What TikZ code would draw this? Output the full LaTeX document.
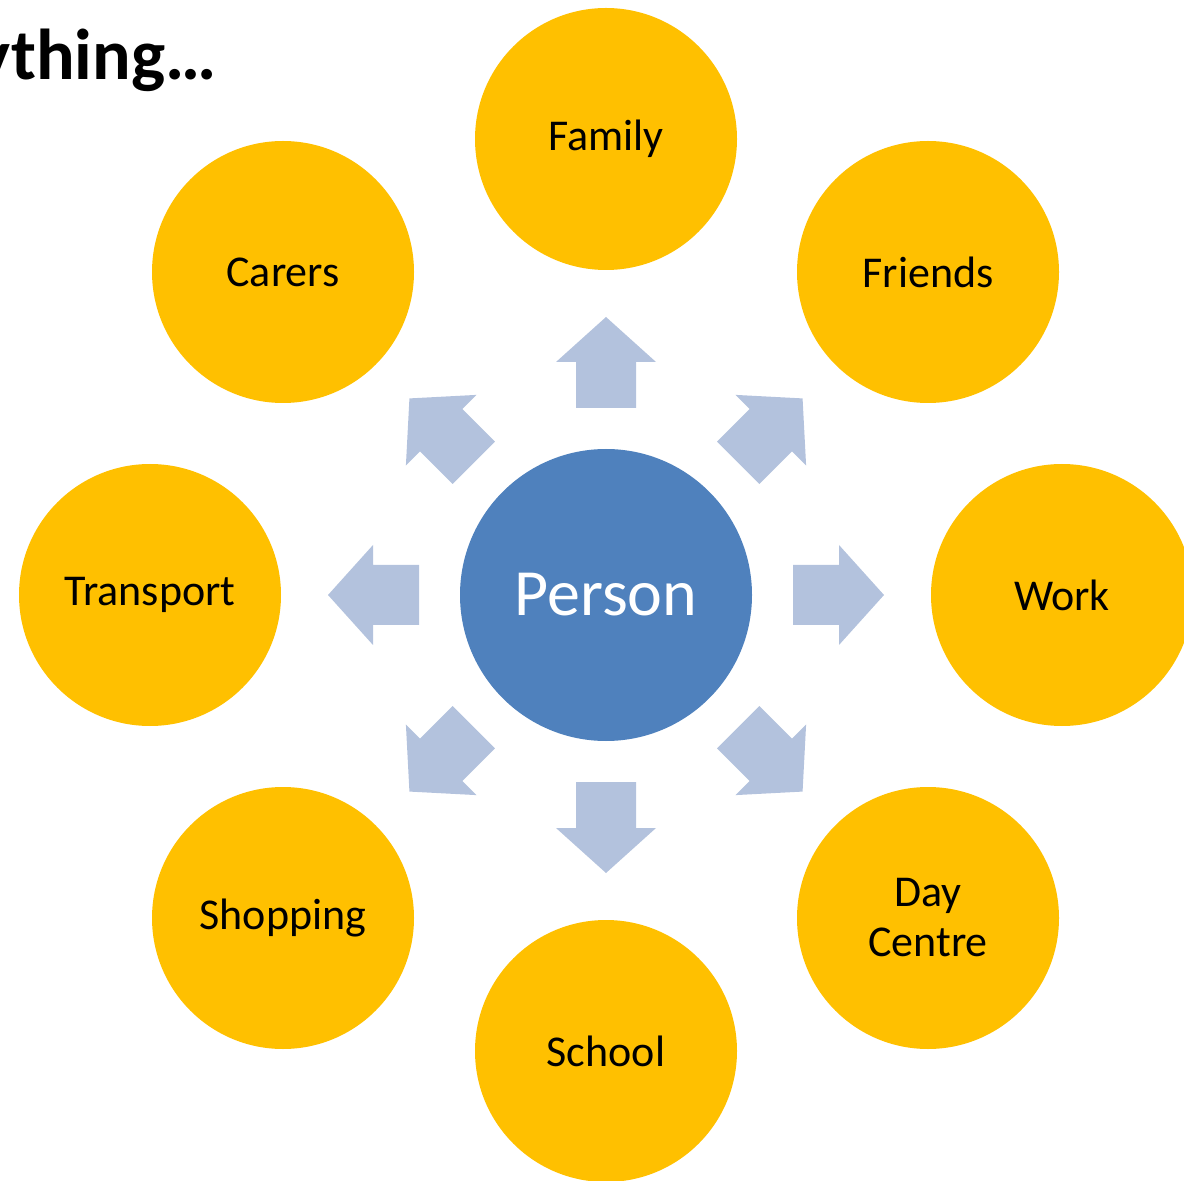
\documentclass[tikz,border=0pt]{standalone}
\usepackage{fontspec}
\setmainfont{Carlito}
\definecolor{ringgold}{HTML}{FFC000}
\definecolor{hubblue}{HTML}{4F81BD}
\definecolor{arrowblue}{HTML}{B3C2DD}
\begin{document}
\begin{tikzpicture}[x=0.5pt, y=0.5pt,
  place/.style={circle, fill=ringgold, minimum size=131pt, inner sep=0pt, align=center, font=\fontsize{22}{25}\selectfont},
  hub/.style={circle, fill=hubblue, minimum size=146pt, inner sep=0pt, text=white, font=\fontsize{33}{38}\selectfont},
  blockarrow/.style={fill=arrowblue}]
\useasboundingbox (0,0) rectangle (1184,1180);
\clip (0,0) rectangle (1184,1180);
\node[anchor=base east, inner sep=0pt, font=\bfseries\fontsize{36}{40}\selectfont] (title) at (217,1100) {ything…};
\node[hub] (person) at (606,585) {Person};
\node[place] (family) at (606,1041) {Family};
\node[place] (friends) at (928,908) {Friends};
\node[place] (work) at (1062,585) {Work};
\node[place] (daycentre) at (928,262) {Day\\Centre};
\node[place] (school) at (606,129) {School};
\node[place] (shopping) at (283,262) {Shopping};
\node[place] (transport) at (150,585) {Transport};
\node[place] (carers) at (283,908) {Carers};
\fill[blockarrow, shift={(person.center)}, rotate=0] (187,-30) -- (233,-30) -- (233,-50) -- (278,0) -- (233,50) -- (233,30) -- (187,30) -- cycle;
\fill[blockarrow, shift={(person.center)}, rotate=45] (187,-30) -- (233,-30) -- (233,-50) -- (278,0) -- (233,50) -- (233,30) -- (187,30) -- cycle;
\fill[blockarrow, shift={(person.center)}, rotate=90] (187,-30) -- (233,-30) -- (233,-50) -- (278,0) -- (233,50) -- (233,30) -- (187,30) -- cycle;
\fill[blockarrow, shift={(person.center)}, rotate=135] (187,-30) -- (233,-30) -- (233,-50) -- (278,0) -- (233,50) -- (233,30) -- (187,30) -- cycle;
\fill[blockarrow, shift={(person.center)}, rotate=180] (187,-30) -- (233,-30) -- (233,-50) -- (278,0) -- (233,50) -- (233,30) -- (187,30) -- cycle;
\fill[blockarrow, shift={(person.center)}, rotate=225] (187,-30) -- (233,-30) -- (233,-50) -- (278,0) -- (233,50) -- (233,30) -- (187,30) -- cycle;
\fill[blockarrow, shift={(person.center)}, rotate=270] (187,-30) -- (233,-30) -- (233,-50) -- (278,0) -- (233,50) -- (233,30) -- (187,30) -- cycle;
\fill[blockarrow, shift={(person.center)}, rotate=315] (187,-30) -- (233,-30) -- (233,-50) -- (278,0) -- (233,50) -- (233,30) -- (187,30) -- cycle;
\end{tikzpicture}
\end{document}
